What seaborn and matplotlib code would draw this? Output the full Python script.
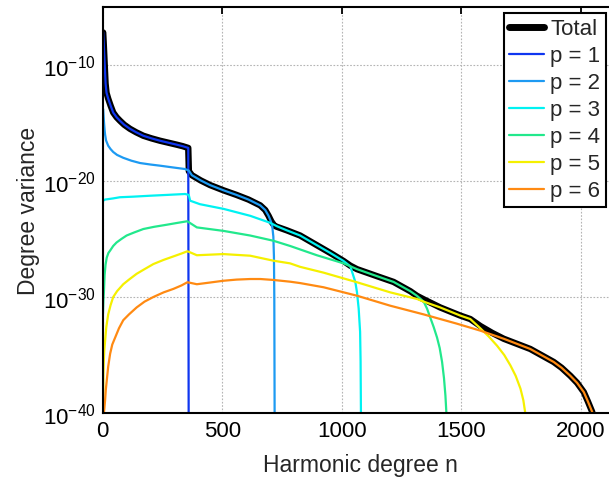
import numpy as np
import pandas as pd
import matplotlib
matplotlib.use("Agg")
import matplotlib.pyplot as plt
import seaborn as sns

# Degree variances (given as log10 values) of the total field and of
# the six partial contributions p = 1..6, sampled at harmonic degree n.
p1_n = [2, 4, 6, 8, 10, 12, 16, 23, 33, 44, 58, 72, 90, 114, 140, 170, 205, 240,
        275, 310, 335, 358, 360]
p1_log = [-7.2, -8.0, -8.9, -9.8, -10.7, -11.6, -12.4, -12.9, -13.5, -14.1, -14.5,
          -14.8, -15.15, -15.5, -15.8, -16.1, -16.33, -16.53, -16.7, -16.87, -17.0,
          -17.15, -45.0]

p2_n = [2, 4, 6, 8, 10, 14, 23, 33, 44, 60, 86, 120, 156, 200, 240, 290, 345, 360,
        373, 410, 449, 505, 560, 610, 659, 680, 694, 704, 710, 714, 716.5, 718, 720]
p2_log = [-13.8, -14.5, -15.1, -15.6, -16.0, -16.5, -16.96, -17.25, -17.5, -17.75,
          -18.0, -18.25, -18.45, -18.58, -18.68, -18.82, -18.97, -19.1, -19.5, -19.95,
          -20.35, -20.8, -21.2, -21.6, -22.1, -22.5, -23.0, -23.5, -24.0, -24.8,
          -26.5, -30.0, -45.0]

p3_n = [2, 10, 44, 72, 128, 198, 268, 345, 360, 366, 407, 505, 617, 700, 729, 770,
        826, 868, 952, 1008, 1036, 1057, 1064, 1071, 1077, 1079, 1080.5, 1081]
p3_log = [-21.7, -21.6, -21.5, -21.4, -21.35, -21.27, -21.2, -21.12, -21.2, -21.7,
          -22.0, -22.4, -23.0, -23.6, -23.9, -24.25, -24.7, -25.2, -26.2, -26.9,
          -27.35, -28.7, -29.6, -31.0, -33.0, -35.5, -40.0, -45.0]

p4_n = [1, 3, 5, 8, 12, 17, 24, 31, 44, 58, 78, 100, 130, 170, 215, 268, 310, 354,
        360, 394, 505, 617, 714, 784, 826, 896, 1008, 1064, 1147, 1217, 1287, 1315,
        1343, 1357, 1371, 1385, 1399, 1410, 1420, 1428, 1434, 1438, 1440]
p4_log = [-31.5, -30.3, -29.6, -28.1, -27.2, -26.6, -26.2, -26.0, -25.6, -25.3,
          -25.0, -24.7, -24.45, -24.14, -23.95, -23.77, -23.62, -23.47, -23.55,
          -24.0, -24.3, -24.7, -25.15, -25.6, -25.9, -26.4, -27.1, -27.6, -28.2,
          -28.7, -29.5, -29.9, -30.4, -31.0, -31.8, -32.6, -33.5, -34.4, -35.6,
          -37.0, -38.5, -40.0, -45.0]

p5_n = [1, 3, 5, 7, 10, 15, 23, 33, 44, 60, 86, 110, 142, 175, 212, 255, 296, 330,
        354, 360, 394, 505, 617, 714, 784, 826, 924, 1064, 1203, 1315, 1343, 1412,
        1496, 1538, 1580, 1615, 1650, 1680, 1706, 1728, 1748, 1760, 1768, 1772]
p5_log = [-41.0, -36.6, -35.3, -34.5, -33.8, -32.6, -31.5, -30.7, -30.0, -29.5,
          -28.9, -28.5, -28.0, -27.6, -27.16, -26.8, -26.5, -26.25, -26.06, -26.1,
          -26.4, -26.3, -26.44, -26.87, -27.1, -27.4, -27.9, -28.73, -29.6, -30.17,
          -30.4, -30.9, -31.6, -31.9, -32.7, -33.4, -34.2, -35.0, -35.9, -36.8,
          -37.9, -38.9, -40.0, -45.0]

p6_n = [3, 5, 7, 10, 13, 17, 23, 31, 40, 52, 68, 86, 110, 142, 175, 212, 255, 296,
        330, 354, 360, 394, 450, 505, 560, 617, 660, 714, 784, 826, 924, 1064, 1203,
        1343, 1482, 1580, 1678, 1789, 1887, 1920, 1957, 1985, 2013, 2030, 2048, 2060]
p6_log = [-41.0, -40.0, -39.6, -38.9, -38.0, -37.2, -36.0, -34.9, -34.1, -33.5,
          -32.7, -32.0, -31.5, -30.9, -30.4, -30.0, -29.6, -29.3, -29.0, -28.73,
          -28.75, -28.9, -28.75, -28.6, -28.5, -28.45, -28.45, -28.53, -28.68, -28.8,
          -29.16, -29.89, -30.75, -31.5, -32.3, -32.9, -33.6, -34.48, -35.6, -36.1,
          -36.8, -37.4, -38.2, -39.0, -39.9, -41.0]

total_n = [2, 4, 6, 8, 10, 12, 16, 23, 33, 44, 58, 72, 90, 114, 140, 170, 205, 240,
           275, 310, 335, 358, 360.5, 373, 410, 449, 505, 560, 610, 659, 680, 694,
           706, 718, 729, 770, 826, 868, 952, 1008, 1036, 1064, 1147, 1217, 1287,
           1315, 1343, 1412, 1496, 1538, 1580, 1630, 1678, 1789, 1887, 1920, 1957,
           1985, 2013, 2030, 2048, 2060]
total_log = [-7.2, -8.0, -8.9, -9.8, -10.7, -11.6, -12.4, -12.9, -13.5, -14.1, -14.5,
             -14.8, -15.15, -15.5, -15.8, -16.1, -16.33, -16.53, -16.7, -16.87,
             -17.0, -17.15, -19.15, -19.5, -19.95, -20.35, -20.8, -21.2, -21.6,
             -22.1, -22.5, -23.0, -23.5, -23.85, -23.95, -24.25, -24.7, -25.2,
             -26.2, -26.9, -27.3, -27.6, -28.2, -28.7, -29.5, -29.9, -30.2, -30.9,
             -31.6, -31.9, -32.5, -33.1, -33.6, -34.48, -35.6, -36.1, -36.8, -37.4,
             -38.2, -39.0, -39.9, -41.0]

series_labels = ["Total", "p = 1", "p = 2", "p = 3", "p = 4", "p = 5", "p = 6"]
series_n = [total_n, p1_n, p2_n, p3_n, p4_n, p5_n, p6_n]
series_log = [total_log, p1_log, p2_log, p3_log, p4_log, p5_log, p6_log]
series_colors = ["#000000", "#0f36f0", "#1d9af2", "#00f2f2", "#22e88c",
                 "#f5f000", "#ff8a12"]
series_widths = [4.6, 1.6, 1.6, 1.6, 1.6, 1.6, 1.6]

x_ticks = [0, 500, 1000, 1500, 2000]
y_ticks = [1e-40, 1e-30, 1e-20, 1e-10]

frames = []
for label, n, lg in zip(series_labels, series_n, series_log):
    frames.append(pd.DataFrame({"n": n, "variance": 10.0 ** np.asarray(lg),
                                "series": label}))
df = pd.concat(frames, ignore_index=True)

sns.set_theme(style="white", rc={
    "axes.unicode_minus": False,
    "mathtext.fontset": "custom",
    "mathtext.rm": "Liberation Sans",
    "mathtext.it": "Liberation Sans:italic",
    "mathtext.bf": "Liberation Sans:bold",
})
plt.rcParams["font.family"] = ["Liberation Sans", "DejaVu Sans"]

fig = plt.figure(figsize=(6.09, 4.85), dpi=100)
W, H = 609.0, 485.0
ax_left, ax_bottom, ax_top = 102.7, 414.0, 8.0
ax_width = 2160 * (119.5 / 500.0)
ax = fig.add_axes([ax_left / W, 1 - ax_bottom / H, ax_width / W,
                   (ax_bottom - ax_top) / H])
ax.set_yscale("log")

for label, color, lw in zip(series_labels, series_colors, series_widths):
    sub = df[df["series"] == label]
    sns.lineplot(data=sub, x="n", y="variance", ax=ax, color=color, linewidth=lw,
                 estimator=None, sort=False, label=label, legend=False)

ax.set_xlim(0, 2160)
ax.set_ylim(1e-40, 1e-5)
ax.set_xticks(x_ticks)
ax.set_yticks(y_ticks)
ax.yaxis.set_minor_locator(matplotlib.ticker.NullLocator())
ax.grid(True, which="major", color="#b4b4b4", linestyle=(0, (1.5, 1.5)),
        linewidth=0.8)
for side in ["left", "bottom", "top", "right"]:
    ax.spines[side].set_visible(True)
    ax.spines[side].set_color("black")
    ax.spines[side].set_linewidth(1.5)
ax.tick_params(axis="both", which="major", direction="in", length=5, width=1.3,
               top=True, right=True, labelsize=16, colors="black", pad=5)

ax.set_xlabel("Harmonic degree n", fontsize=16.5, labelpad=9)
ax.set_ylabel("Degree variance", fontsize=16.5, labelpad=2)

handles = [matplotlib.lines.Line2D([], [], color=c,
                                   linewidth=(5.0 if l == "Total" else 1.6))
           for l, c in zip(series_labels, series_colors)]
leg = ax.legend(handles, series_labels, loc="upper left",
                bbox_to_anchor=(504 / W, 1 - 14 / H), bbox_transform=fig.transFigure,
                borderaxespad=0, fontsize=16, frameon=True, fancybox=False,
                edgecolor="black", framealpha=1, labelspacing=0.27,
                handlelength=1.55, handletextpad=0.3, borderpad=0.24)
leg.get_frame().set_linewidth(1.5)

fig.savefig("out.png", dpi=100)
